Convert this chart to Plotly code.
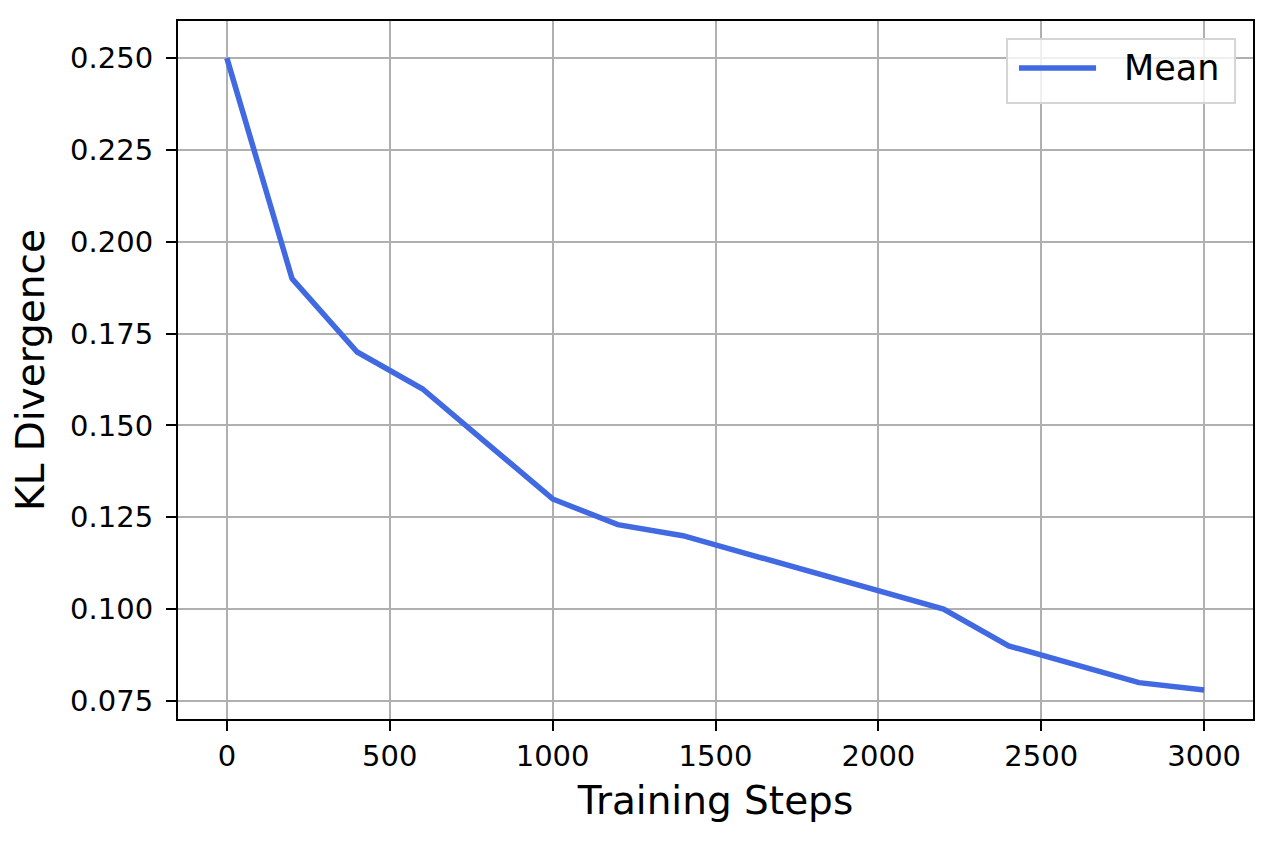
import plotly.graph_objects as go

# values
steps = [0, 200, 400, 600, 800, 1000, 1200, 1400, 1600, 1800, 2000, 2200, 2400, 2600, 2800, 3000]
kl_mean = [0.250, 0.190, 0.170, 0.160, 0.145, 0.130, 0.123, 0.120, 0.115, 0.110, 0.105,
           0.100, 0.090, 0.085, 0.080, 0.078]

x_ticks = [0, 500, 1000, 1500, 2000, 2500, 3000]
y_ticks = [0.075, 0.100, 0.125, 0.150, 0.175, 0.200, 0.225, 0.250]

font = "DejaVu Sans"
line_color = "#4169E1"

fig = go.Figure()
fig.add_trace(go.Scatter(x=steps, y=kl_mean, mode="lines", name="Mean",
                         line=dict(color=line_color, width=5.5), showlegend=False))

axis_style = dict(
    showline=True, linecolor="black", linewidth=2.2, mirror=True,
    showgrid=True, gridcolor="#b0b0b0", gridwidth=2,
    ticks="outside", ticklen=10, tickwidth=2.2, tickcolor="black",
    tickfont=dict(family=font, size=29, color="black"),
    zeroline=False,
)

fig.update_xaxes(range=[-150, 3150], tickvals=x_ticks,
                 title=dict(text="Training Steps", font=dict(family=font, size=39, color="black"),
                            standoff=15),
                 **axis_style)
fig.update_yaxes(range=[0.0701, 0.2601], tickvals=y_ticks, tickformat=".3f",
                 ticklabelstandoff=7,
                 title=dict(text="KL Divergence", font=dict(family=font, size=39, color="black"),
                            standoff=21),
                 **axis_style)

# matplotlib-style legend box (upper right), drawn in paper coordinates
fig.add_shape(type="rect", xref="paper", yref="paper",
              x0=0.7712, x1=0.9833, y0=0.8825, y1=0.9742,
              fillcolor="rgba(255,255,255,0.8)", line=dict(color="#d5d5d5", width=2), layer="above")
fig.add_shape(type="line", xref="paper", yref="paper",
              x0=0.7823, x1=0.8540, y0=0.9327, y1=0.9327,
              line=dict(color=line_color, width=5.5), layer="above")
fig.add_annotation(text="Mean", xref="paper", yref="paper", x=0.878, y=0.9327,
                   xanchor="left", yanchor="middle", showarrow=False,
                   font=dict(family=font, size=35, color="black"))

fig.update_layout(
    width=1259, height=826,
    margin=dict(l=170, r=14, t=13, b=115),
    plot_bgcolor="white", paper_bgcolor="white",
    font=dict(family=font, color="black"),
    showlegend=False,
)

fig.write_html("out.html")
